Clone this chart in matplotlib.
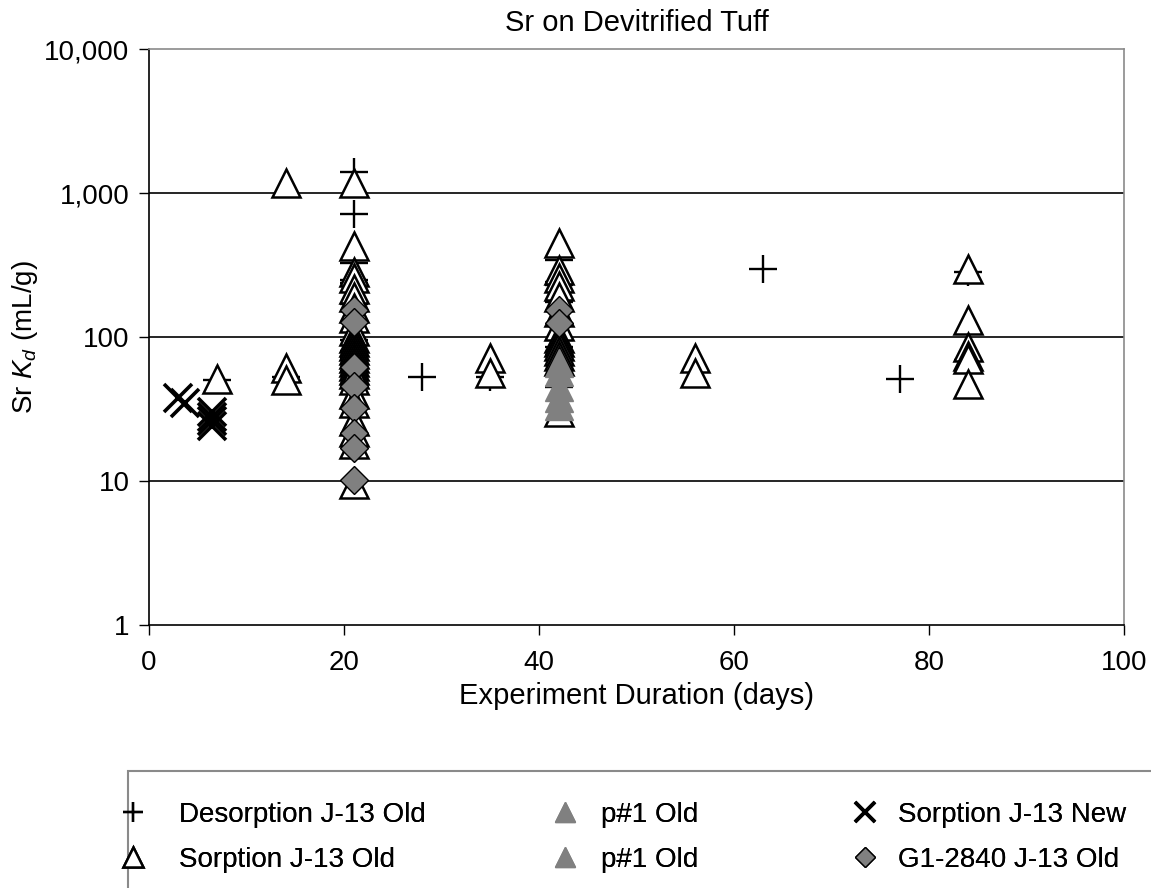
import numpy as np
import matplotlib
matplotlib.use('Agg')
import matplotlib.pyplot as plt
from matplotlib.ticker import FixedLocator, FuncFormatter
from matplotlib.patches import Rectangle

plt.rcParams['font.family'] = ['Liberation Sans', 'DejaVu Sans']
plt.rcParams['mathtext.fontset'] = 'custom'
plt.rcParams['mathtext.rm'] = 'Liberation Sans'
plt.rcParams['mathtext.it'] = 'Liberation Sans:italic'

# Desorption J-13 Old (+)
desorp_x = [7, 14, 21, 21, 21, 21, 21, 21, 21, 21, 21, 21, 21, 21, 28, 35,
            42, 42, 42, 42, 42, 42, 42, 42, 63, 77, 84, 84]
desorp_y = [50, 53, 1400, 720, 325, 249, 236, 170, 95, 88, 80, 72, 65, 58, 53, 53,
            343, 240, 230, 175, 95, 85, 75, 45, 295, 51, 284, 69]

# Sorption J-13 Old (open triangles)
sorp_old_x = [7, 14, 14, 14,
              21, 21, 21, 21, 21, 21, 21, 21, 21, 21, 21, 21, 21, 21, 21, 21,
              21, 21, 21, 21, 21, 21, 21, 21, 21, 21,
              35, 35,
              42, 42, 42, 42, 42, 42, 42, 42, 42, 42, 42, 42, 42, 42,
              56, 56, 84, 84, 84, 84, 84, 84]
sorp_old_y = [51, 1180, 61, 50,
              1180, 429, 282, 256, 215, 190, 160, 135, 110, 98, 92, 86, 81, 76, 71,
              67, 63, 59, 55, 50, 40, 35, 26, 22, 18, 9.5,
              71, 56,
              450, 290, 255, 225, 190, 150, 120, 98, 92, 86, 80, 74, 68, 30,
              71, 56, 297, 131, 85, 74, 70, 47]

# p#1 Old (grey triangles), two series
p1a_x = [42, 42, 42]
p1a_y = [66, 57, 45]
p1b_x = [42, 42]
p1b_y = [38, 33]

# Sorption J-13 New (x)
sorp_new_x = [3, 3.7, 6.5, 6.5, 6.5, 6.5]
sorp_new_y = [38, 35, 30, 28, 26, 24]

# G1-2840 J-13 Old (grey diamonds)
g1_x = [21, 21, 21, 21, 21, 21, 21, 21, 42, 42]
g1_y = [155, 127, 62, 46, 32, 21.5, 17, 10.1, 154, 125]

y_ticks = [1, 10, 100, 1000, 10000]
x_ticks = [0, 20, 40, 60, 80, 100]

fig = plt.figure(figsize=(11.51, 8.88), dpi=100)
ax = fig.add_axes([0.1295, 0.2962, 0.8470, 0.6486])

grey = '#808080'
h1, = ax.plot(desorp_x, desorp_y, '+', color='black', ms=20, mew=1.7,
              linestyle='none', label='Desorption J-13 Old')
h2, = ax.plot(sorp_old_x, sorp_old_y, '^', mfc='white', mec='black', ms=20,
              mew=1.8, linestyle='none', label='Sorption J-13 Old')
h3, = ax.plot(p1a_x, p1a_y, '^', mfc=grey, mec=grey, ms=20, mew=1.0,
              linestyle='none', label='p#1 Old')
h4, = ax.plot(p1b_x, p1b_y, '^', mfc=grey, mec=grey, ms=20, mew=1.0,
              linestyle='none', label='p#1 Old')
h5, = ax.plot(sorp_new_x, sorp_new_y, 'x', color='black', ms=20, mew=2.6,
              linestyle='none', label='Sorption J-13 New')
h6, = ax.plot(g1_x, g1_y, 'D', mfc=grey, mec='black', ms=14, mew=1.0,
              linestyle='none', label='G1-2840 J-13 Old')

ax.set_yscale('log')
ax.set_ylim(1, 10000)
ax.set_xlim(0, 100)
ax.yaxis.set_major_locator(FixedLocator(y_ticks))
ax.yaxis.set_minor_locator(FixedLocator([]))
ax.yaxis.set_major_formatter(FuncFormatter(lambda v, p: f'{int(v):,}'))
ax.xaxis.set_major_locator(FixedLocator(x_ticks))

for v in y_ticks[1:-1]:
    ax.axhline(v, color='black', lw=1.2, zorder=0.5)

for s in ['top', 'right']:
    ax.spines[s].set_color('#8a8a8a')
    ax.spines[s].set_linewidth(1.2)
for s in ['left', 'bottom']:
    ax.spines[s].set_color('black')
    ax.spines[s].set_linewidth(1.2)

ax.tick_params(axis='x', direction='out', length=7, width=1, pad=11, labelsize=20)
ax.tick_params(axis='y', direction='out', length=7, width=1, pad=7, labelsize=20)

ax.set_xlabel('Experiment Duration (days)', fontsize=21, labelpad=4)
ax.set_ylabel('Sr $K_d$ (mL/g)', fontsize=20, labelpad=3)
ax.set_title('Sr on Devitrified Tuff', fontsize=21, pad=13)

# legend frame
fig.patches.append(Rectangle((128 / 1151, -0.05), 1.0, 1 - 771 / 888 + 0.05,
                             transform=fig.transFigure, fill=False,
                             edgecolor='#8a8a8a', lw=1.5))

cols = [([h1, h2], 119, 1.15), ([h3, h4], 551, 0.8), ([h5, h6], 851, 0.7)]
for handles, xpix, pad in cols:
    leg = fig.legend(handles=handles, loc='upper left',
                     bbox_to_anchor=(xpix / 1151, 1 - 802 / 888),
                     frameon=False, fontsize=20, markerscale=0.72,
                     handlelength=1.0, handletextpad=pad, labelspacing=0.68,
                     borderpad=0, borderaxespad=0)
    fig.add_artist(leg)

fig.savefig('out.png', dpi=100)
